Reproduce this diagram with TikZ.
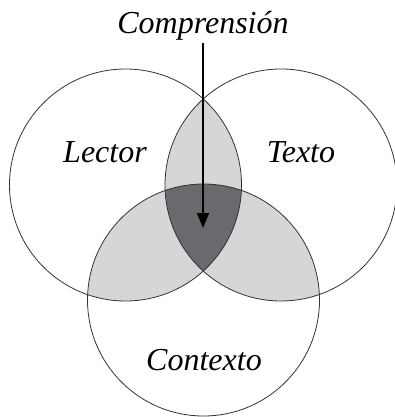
\documentclass[tikz,border=0pt]{standalone}
\usepackage{fontspec}
\setmainfont{Liberation Serif}
\usetikzlibrary{arrows.meta,positioning}
\definecolor{LightGray}{HTML}{D6D6D8}
\definecolor{DarkGray}{HTML}{6A6A6E}
\tikzset{
  setcirc/.style={draw=black!80, line width=0.8pt},
  setlabel/.style={font=\fontsize{32}{34}\selectfont\itshape, inner sep=2pt},
  pointarr/.style={-{Triangle[length=15pt,width=12pt]}, line width=1.8pt},
}

\begin{document}
\begin{tikzpicture}[x=1pt, y=-1pt]
  \useasboundingbox (0,0) rectangle (395,417);
  \coordinate (lector) at (125.5,185);
  \coordinate (texto) at (281,185);
  \coordinate (contexto) at (203.5,300);
  % pairwise overlaps
  \begin{scope}
    \clip (lector) circle[radius=116pt];
    \fill[LightGray] (texto) circle[radius=116pt];
    \fill[LightGray] (contexto) circle[radius=116pt];
  \end{scope}
  \begin{scope}
    \clip (texto) circle[radius=116pt];
    \fill[LightGray] (contexto) circle[radius=116pt];
  \end{scope}
  % triple overlap
  \begin{scope}
    \clip (lector) circle[radius=116pt];
    \clip (texto) circle[radius=116pt];
    \fill[DarkGray] (contexto) circle[radius=116pt];
  \end{scope}
  \draw[setcirc] (lector) circle[radius=116pt];
  \draw[setcirc] (texto) circle[radius=116pt];
  \draw[setcirc] (contexto) circle[radius=116pt];

  \node[setlabel] (lbllector) at (105,152) {Lector};
  \node[setlabel] (lbltexto) at (301,152) {Texto};
  \node[setlabel] (lblcontexto) at (204,360) {Contexto};
  \node[setlabel] (compr) at (203,26) {Comprensión};
  \coordinate (core) at (203,228);
  \draw[pointarr] (compr) -- (core);
\end{tikzpicture}
\end{document}
